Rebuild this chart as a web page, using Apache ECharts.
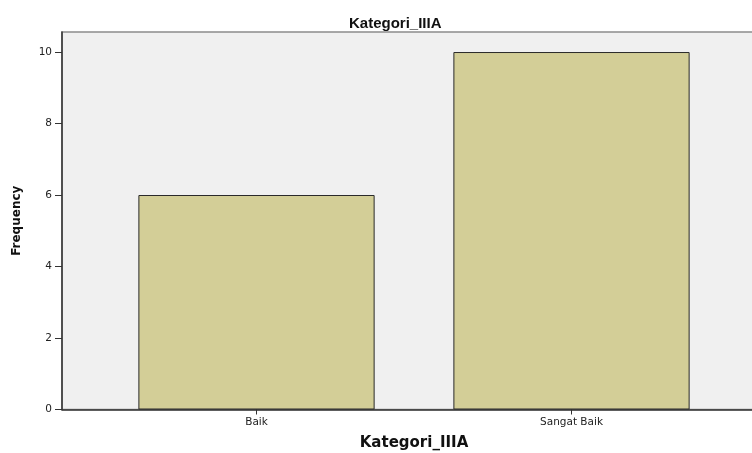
<!DOCTYPE html>
<html>
<head>
<meta charset="utf-8">
<script src="https://cdn.jsdelivr.net/npm/echarts@6/dist/echarts.min.js"></script>
<style>
html,body{margin:0;padding:0;background:#fff;}
#chart{width:752px;height:453px;}
</style>
</head>
<body>
<div id="chart"></div>
<script>
const titleText = 'Kategori_IIIA';
const categories = ['Baik', 'Sangat Baik'];
const frequency = [6, 10];
const yTicks = [0, 2, 4, 6, 8, 10];
const yAxisName = 'Frequency';
const xAxisName = 'Kategori_IIIA';

const Y_MAX = 10.56;
const chart = echarts.init(document.getElementById('chart'));
chart.setOption({
  animation: false,
  backgroundColor: '#ffffff',
  title: {
    text: titleText,
    left: 344,
    top: 11,
    textStyle: {fontFamily: 'Liberation Sans', fontWeight: 'bold', fontSize: 15, color: '#111'}
  },
  grid: [
    {left: 62, top: 32, width: 740, bottom: 43.5, outerBoundsMode: 'none', containLabel: false,
     show: true, backgroundColor: '#f0f0f0', borderColor: '#8c8c8c', borderWidth: 1.5},
    {left: 99, top: 32, right: 23, bottom: 43.5, outerBoundsMode: 'none', containLabel: false}
  ],
  xAxis: [
    {
      gridIndex: 0, type: 'value', min: 0, max: 1,
      axisLine: {show: true, onZero: false, lineStyle: {color: '#333', width: 1.5}},
      axisTick: {show: false}, axisLabel: {show: false}, splitLine: {show: false}
    },
    {
      gridIndex: 1, type: 'category', data: categories,
      axisLine: {show: false},
      axisTick: {show: true, alignWithLabel: true, length: 5, lineStyle: {color: '#333'}},
      axisLabel: {fontFamily: 'DejaVu Sans', fontSize: 10.5, color: '#222', margin: 7},
      name: xAxisName, nameLocation: 'middle', nameGap: 26,
      nameTextStyle: {fontFamily: 'DejaVu Sans', fontWeight: 'bold', fontSize: 15, color: '#111'}
    }
  ],
  yAxis: [
    {
      gridIndex: 0, type: 'value', min: 0, max: Y_MAX, interval: 2,
      axisLine: {show: true, lineStyle: {color: '#333', width: 1.5}},
      axisTick: {show: true, length: 7, lineStyle: {color: '#333'},
        customValues: yTicks},
      axisLabel: {fontFamily: 'DejaVu Sans', fontSize: 10.5, color: '#222', margin: 10,
        customValues: yTicks},
      splitLine: {show: false},
      name: yAxisName, nameLocation: 'middle', nameRotate: 90, nameGap: 39,
      nameTextStyle: {fontFamily: 'DejaVu Sans', fontWeight: 'bold', fontSize: 12, color: '#111'}
    },
    {
      gridIndex: 1, type: 'value', min: 0, max: Y_MAX, show: false
    }
  ],
  series: [{
    type: 'bar',
    xAxisIndex: 1, yAxisIndex: 1,
    data: frequency,
    barWidth: '75%',
    itemStyle: {color: '#d3ce97', borderColor: '#2a2a2a', borderWidth: 1}
  }]
});
</script>
</body>
</html>
